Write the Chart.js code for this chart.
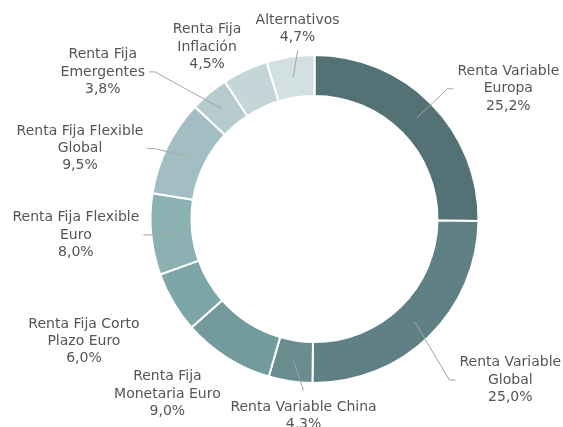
<!DOCTYPE html>
<html>
<head>
<meta charset="utf-8">
<script src="https://cdn.jsdelivr.net/npm/chart.js@4"></script>
<style>
  html, body { margin: 0; padding: 0; background: #fff; }
  #wrap { width: 563px; height: 427px; position: relative; }
</style>
</head>
<body>
<div id="wrap"><canvas id="allocChart"></canvas></div>
<script>
// Cartera por tipo de activo
const categories = [
    ['Renta Variable', 'Europa'],
    ['Renta Variable', 'Global'],
    ['Renta Variable China'],
    ['Renta Fija', 'Monetaria Euro'],
    ['Renta Fija Corto', 'Plazo Euro'],
    ['Renta Fija Flexible', 'Euro'],
    ['Renta Fija Flexible', 'Global'],
    ['Renta Fija', 'Emergentes'],
    ['Renta Fija', 'Inflación'],
    ['Alternativos']
];
const weights = [25.2, 25.0, 4.3, 9.0, 6.0, 8.0, 9.5, 3.8, 4.5, 4.7];
const sliceColors = ['#547275', '#5f8185', '#698c8f', '#739b9d', '#7ea6a8',
    '#8bb1b3', '#a3bec2', '#b5cbcd', '#c5d6d8', '#d3e0e2'];

// where each label box sits, relative to the pie centre in outer-radius units,
// and whether it gets a leader line (as in the original Excel chart)
const labelSpots = [
    [1.182, -0.794], [1.194, 0.982], [-0.067, 1.20], [-0.897, 1.067], [-1.406, 0.745],
    [-1.455, 0.097], [-1.430, -0.430], [-1.291, -0.897], [-0.655, -1.048], [-0.103, -1.158]
];
const leaderOn = [true, true, true, false, false, true, true, true, false, true];

const fmtPct = v => v.toFixed(1).replace('.', ',') + '%';

const outsideLabels = {
    id: 'outsideLabels',
    afterDatasetsDraw(chart) {
        const ctx = chart.ctx;
        const meta = chart.getDatasetMeta(0);
        const lineH = 17.3;
        ctx.save();
        ctx.font = '14px "DejaVu Sans", Verdana, sans-serif';
        ctx.textAlign = 'center';
        ctx.textBaseline = 'middle';
        meta.data.forEach((arc, i) => {
            const p = arc.getProps(['x', 'y', 'startAngle', 'endAngle', 'innerRadius', 'outerRadius'], true);
            const mid = (p.startAngle + p.endAngle) / 2;
            const lines = categories[i].concat([fmtPct(weights[i])]);
            const w = Math.max(...lines.map(l => ctx.measureText(l).width));
            const hw = w / 2, hh = lines.length * lineH / 2;
            const cx = p.x + labelSpots[i][0] * p.outerRadius;
            const cy = p.y + labelSpots[i][1] * p.outerRadius;

            if (leaderOn[i]) {
                const rm = (p.innerRadius + p.outerRadius) / 2;
                const sx = p.x + rm * Math.cos(mid), sy = p.y + rm * Math.sin(mid);
                ctx.strokeStyle = '#a6a6a6';
                ctx.lineWidth = 1;
                ctx.beginPath();
                ctx.moveTo(sx, sy);
                if (sx > cx + hw) {
                    ctx.lineTo(cx + hw + 10, cy);
                    ctx.lineTo(cx + hw + 4, cy);
                } else if (sx < cx - hw) {
                    ctx.lineTo(cx - hw - 10, cy);
                    ctx.lineTo(cx - hw - 4, cy);
                } else if (sy < cy) {
                    ctx.lineTo(cx, cy - hh - 8);
                } else {
                    ctx.lineTo(cx, cy + hh + 4);
                }
                ctx.stroke();
            }

            ctx.fillStyle = '#555555';
            lines.forEach((l, k) => {
                ctx.fillText(l, cx, cy + (k - (lines.length - 1) / 2) * lineH);
            });
        });
        ctx.restore();
    }
};

const ctx = document.getElementById('allocChart').getContext('2d');
const allocChart = new Chart(ctx, {
    type: 'doughnut',
    data: {
        labels: categories,
        datasets: [{
            data: weights,
            backgroundColor: sliceColors,
            borderColor: '#ffffff',
            borderWidth: 2
        }]
    },
    options: {
        responsive: true,
        maintainAspectRatio: false,
        animation: false,
        cutout: '75%',
        layout: {
            padding: { left: 149, right: 83, top: 54, bottom: 43 }
        },
        plugins: {
            legend: { display: false },
            tooltip: { enabled: false }
        }
    },
    plugins: [outsideLabels]
});
</script>
</body>
</html>
